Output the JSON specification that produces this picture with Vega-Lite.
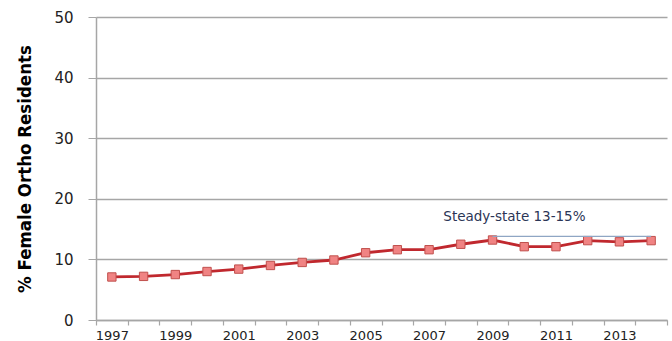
{
  "$schema": "https://vega.github.io/schema/vega-lite/v6.json",
  "width": 571,
  "height": 303,
  "autosize": {"type": "none"},
  "padding": {"left": 96, "top": 17, "right": 5, "bottom": 21},
  "background": "white",
  "config": {"view": {"stroke": null}},
  "datasets": {
    "series": [
      {"year": 1997, "pct": 7.1},
      {"year": 1998, "pct": 7.2},
      {"year": 1999, "pct": 7.5},
      {"year": 2000, "pct": 8.0},
      {"year": 2001, "pct": 8.4},
      {"year": 2002, "pct": 9.0},
      {"year": 2003, "pct": 9.5},
      {"year": 2004, "pct": 9.9},
      {"year": 2005, "pct": 11.1},
      {"year": 2006, "pct": 11.6},
      {"year": 2007, "pct": 11.6},
      {"year": 2008, "pct": 12.5},
      {"year": 2009, "pct": 13.2},
      {"year": 2010, "pct": 12.1},
      {"year": 2011, "pct": 12.1},
      {"year": 2012, "pct": 13.1},
      {"year": 2013, "pct": 12.9},
      {"year": 2014, "pct": 13.1}
    ],
    "note": [
      {"x": 2009, "x2": 2014, "y": 13.8, "tx": 2007.45, "ty": 17.0, "label": "Steady-state 13-15%"}
    ]
  },
  "resolve": {"axis": {"x": "independent"}},
  "layer": [
    {
      "data": {"name": "series"},
      "mark": {"type": "line", "color": "#c0282e", "strokeWidth": 2.8},
      "encoding": {
        "x": {
          "field": "year", "type": "quantitative",
          "scale": {"domain": [1996.5, 2014.5], "nice": false, "zero": false},
          "axis": {
            "orient": "bottom",
            "values": [1996.5, 1997.5, 1998.5, 1999.5, 2000.5, 2001.5, 2002.5, 2003.5, 2004.5, 2005.5, 2006.5, 2007.5, 2008.5, 2009.5, 2010.5, 2011.5, 2012.5, 2013.5, 2014.5],
            "labels": false, "grid": false, "title": null,
            "domainColor": "#a6a6a6", "domainWidth": 1.5,
            "tickColor": "#a6a6a6", "tickSize": 5, "tickWidth": 1.2
          }
        },
        "y": {
          "field": "pct", "type": "quantitative",
          "scale": {"domain": [0, 50], "nice": false},
          "axis": {
            "values": [0, 10, 20, 30, 40, 50],
            "title": "% Female  Ortho Residents",
            "titleFont": "DejaVu Sans Condensed",
            "titleFontSize": 18.5,
            "titleFontWeight": "bold",
            "titleColor": "#000000",
            "titlePadding": 19,
            "labelFont": "DejaVu Sans",
            "labelFontSize": 15,
            "labelColor": "#222222",
            "labelPadding": 15,
            "domainColor": "#a6a6a6", "domainWidth": 1.5,
            "tickColor": "#a6a6a6", "tickSize": 8,
            "gridColor": "#a6a6a6", "gridWidth": 1.3
          }
        }
      }
    },
    {
      "data": {"name": "series"},
      "mark": {"type": "point", "shape": "square", "filled": true, "size": 70, "fill": "#f08383", "stroke": "#c0504d", "strokeWidth": 1, "opacity": 1},
      "encoding": {
        "x": {
          "field": "year", "type": "quantitative",
          "axis": {
            "orient": "bottom",
            "values": [1997, 1999, 2001, 2003, 2005, 2007, 2009, 2011, 2013],
            "format": "d",
            "ticks": false, "domain": false, "grid": false, "title": null,
            "labelFont": "DejaVu Sans",
            "labelFontSize": 13,
            "labelColor": "#222222",
            "labelPadding": 9
          }
        },
        "y": {"field": "pct", "type": "quantitative"}
      }
    },
    {
      "data": {"name": "note"},
      "mark": {"type": "rule", "color": "#8fa6c4", "strokeWidth": 1.3},
      "encoding": {
        "x": {"field": "x", "type": "quantitative", "axis": null},
        "x2": {"field": "x2"},
        "y": {"field": "y", "type": "quantitative"}
      }
    },
    {
      "data": {"name": "note"},
      "mark": {"type": "text", "align": "left", "baseline": "middle", "font": "DejaVu Sans", "fontSize": 13.5, "color": "#2b3556"},
      "encoding": {
        "x": {"field": "tx", "type": "quantitative", "axis": null},
        "y": {"field": "ty", "type": "quantitative"},
        "text": {"field": "label"}
      }
    }
  ]
}
